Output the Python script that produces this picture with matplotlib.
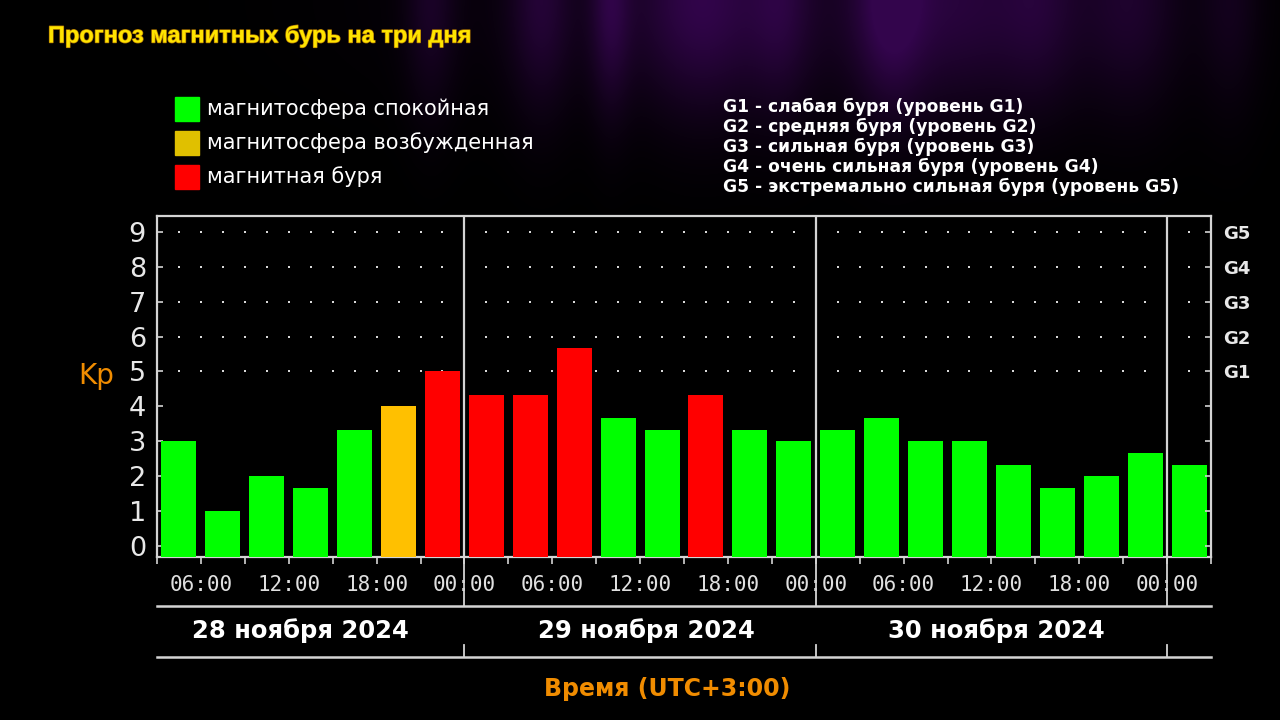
import numpy as np
import matplotlib
matplotlib.use("Agg")
import matplotlib.pyplot as plt
from matplotlib.patches import Rectangle
import matplotlib.patheffects as pe

# ---------------- data ----------------
kp_values = [3.0, 1.0, 2.0, 1.67, 3.33, 4.0, 5.0,
             4.33, 4.33, 5.67, 3.67, 3.33, 4.33, 3.33, 3.0,
             3.33, 3.67, 3.0, 3.0, 2.33, 1.67, 2.0, 2.67,
             2.33]
kp_states = ["quiet", "quiet", "quiet", "quiet", "quiet", "active", "storm",
             "storm", "storm", "storm", "quiet", "quiet", "storm", "quiet", "quiet",
             "quiet", "quiet", "quiet", "quiet", "quiet", "quiet", "quiet", "quiet",
             "quiet"]
start_hour = 3          # first interval starts 28 Nov 03:00
step_hours = 3
time_tick_labels = ["06:00", "12:00", "18:00", "00:00",
                    "06:00", "12:00", "18:00", "00:00",
                    "06:00", "12:00", "18:00", "00:00"]
day_labels = ["28 ноября 2024", "29 ноября 2024", "30 ноября 2024"]
g_labels = ["G1", "G2", "G3", "G4", "G5"]
legend_labels = ["магнитосфера спокойная", "магнитосфера возбужденная", "магнитная буря"]
g_descriptions = ["G1 - слабая буря (уровень G1)",
                  "G2 - средняя буря (уровень G2)",
                  "G3 - сильная буря (уровень G3)",
                  "G4 - очень сильная буря (уровень G4)",
                  "G5 - экстремально сильная буря (уровень G5)"]

state_colors = {"quiet": "#00ff00", "active": "#ffc000", "storm": "#ff0000"}
legend_colors = ["#00ff00", "#e0c000", "#ff0000"]

W, H = 1280, 720
fig = plt.figure(figsize=(12.8, 7.2), dpi=100, facecolor="black")

# ---------------- background (faint purple glow at top) ----------------
bg = fig.add_axes([0, 0, 1, 1], zorder=-10)
bg.axis("off")
xx = np.arange(W)[None, :]
yy = np.arange(H)[:, None]
streak_centers = [430, 540, 610, 700, 780, 890, 960, 1040, 1130, 1230]
streak_widths = [25, 30, 20, 60, 30, 35, 70, 40, 50, 30]
streak_amps = [0.4, 0.5, 0.6, 0.6, 0.4, 0.7, 0.45, 0.4, 0.45, 0.3]
inten = np.zeros((H, W))
for c, w, a in zip(streak_centers, streak_widths, streak_amps):
    inten += a * np.exp(-((xx - c) / w) ** 2) * np.ones((H, 1))
inten += 0.4 * np.exp(-((xx - 800) / 320) ** 2)
inten *= np.exp(-(yy / 110.0) ** 2)
inten = np.clip(inten, 0, 1)
img = np.zeros((H, W, 3))
img[..., 0] = 0.20 * inten
img[..., 1] = 0.02 * inten
img[..., 2] = 0.30 * inten
bg.imshow(img, extent=[0, 1, 0, 1], aspect="auto", transform=bg.transAxes)
bg.set_xlim(0, 1); bg.set_ylim(0, 1)

# ---------------- main axes ----------------
ax_left, ax_right, ax_top, ax_bot = 157, 1211, 216, 557
ax = fig.add_axes([ax_left / W, 1 - ax_bot / H, (ax_right - ax_left) / W, (ax_bot - ax_top) / H])
ax.set_facecolor("black")
n = len(kp_values)
x_start = start_hour
x_end = start_hour + n * step_hours
ybot, ytop = -0.315, 9.455
ax.set_xlim(x_start, x_end)
ax.set_ylim(ybot, ytop)

centers = [start_hour + step_hours * i + step_hours / 2 for i in range(n)]
heights = [v - ybot for v in kp_values]
colors = [state_colors[s] for s in kp_states]
ax.bar(centers, heights, bottom=ybot, width=2.39, color=colors, zorder=3, linewidth=0)

# dotted grid for levels 5..9
gx = np.arange(x_start + 1.5, x_end, 1.5)
for lvl in range(5, 10):
    ax.plot(gx, [lvl] * len(gx), linestyle="none", marker="s", markersize=1.8,
            markeredgewidth=0, color="#d8d8d8", zorder=1)

line_col = "#d4d4d4"
trans = ax.get_xaxis_transform()
day_bounds = [24, 48, 72]
for d in day_bounds:
    ax.axvline(d, color=line_col, lw=1.6, zorder=4)
    ax.plot([d, d], [0, -0.1437], transform=trans, clip_on=False, color=line_col, lw=1.3)
    ax.plot([d, d], [-0.258, -0.293], transform=trans, clip_on=False, color=line_col, lw=1.3)
for yl in (-0.1437, -0.293):
    ax.plot([x_start, x_end], [yl, yl], transform=trans, clip_on=False, color=line_col, lw=1.8)

day_label_x = [12.8, 36.4, 60.35]
for xl, lbl in zip(day_label_x, day_labels):
    ax.text(xl, -0.217, lbl, transform=trans, ha="center", va="center",
            color="white", fontsize=17.5, fontweight="bold", family="DejaVu Sans")

for sp in ax.spines.values():
    sp.set_color(line_col)
    sp.set_linewidth(1.6)

# x ticks
ax.set_xticks(np.arange(start_hour + 3, x_end, 6))
ax.set_xticklabels(time_tick_labels)
ax.set_xticks(np.arange(x_start, x_end + 0.1, 3), minor=True)
ax.tick_params(axis="x", which="both", direction="out", length=5, width=1.2,
               color=line_col, labelcolor="#e0e0e0", labelsize=15, pad=8)
for t in ax.get_xticklabels():
    t.set_family("DejaVu Sans Mono")

# y ticks left
ax.set_yticks(range(10))
ax.tick_params(axis="y", which="both", direction="in", length=4, width=1.2,
               color=line_col, labelcolor="#e8e8e8", labelsize=19.5, pad=8)

# right G labels
ax2 = ax.twinx()
ax2.set_ylim(ybot, ytop)
ax2.set_yticks(range(10))
ax2.set_yticklabels([""] * 5 + g_labels)
ax2.tick_params(axis="y", direction="in", length=4, width=1.2, color=line_col,
                labelcolor="#e8e8e8", labelsize=13, pad=9)
for t in ax2.get_yticklabels():
    t.set_fontweight("bold")
for sp in ax2.spines.values():
    sp.set_visible(False)

fig.text(96 / W, 1 - 376 / H, "Kp", color="#f08c00", fontsize=20, ha="center", va="center")

# ---------------- title ----------------
fig.text(48 / W, 1 - 36 / H, "Прогноз магнитных бурь на три дня", color="#ffe400",
         fontsize=17, fontweight="bold", family="Liberation Sans", ha="left", va="center",
         path_effects=[pe.withStroke(linewidth=1.0, foreground="#b07800")])

# ---------------- legends ----------------
leg_y = [109, 143, 177]
for yc, col, lbl in zip(leg_y, legend_colors, legend_labels):
    fig.add_artist(Rectangle((175 / W, 1 - (yc + 12) / H), 24 / W, 24 / H,
                             transform=fig.transFigure, color=col))
    fig.text(207 / W, 1 - yc / H, lbl, color="white", fontsize=15, ha="left", va="center")

for i, s in enumerate(g_descriptions):
    fig.text(723 / W, 1 - (107 + 20 * i) / H, s, color="white", fontsize=12.3,
             fontweight="bold", ha="left", va="center")

fig.text(667 / W, 1 - 689 / H, "Время (UTC+3:00)", color="#f08c00", fontsize=17,
         fontweight="bold", ha="center", va="center")

fig.savefig("out.png", dpi=100, facecolor="black")
